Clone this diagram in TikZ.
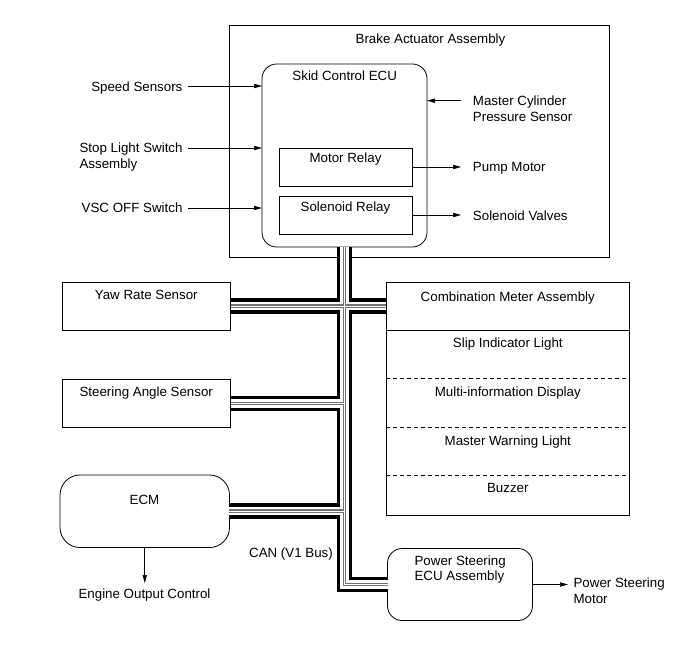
\documentclass[tikz,border=0pt]{standalone}
\usepackage{fontspec}
\setmainfont{Liberation Sans}
\usetikzlibrary{arrows.meta}
\begin{document}
\begin{tikzpicture}[x=0.75pt,y=-0.75pt,
  box/.style={draw, line width=0.6pt, inner sep=0pt, outer sep=0pt},
  rbox/.style={box, rounded corners=11pt},
  txt/.style={inner sep=0pt, font=\fontsize{10}{11.5}\selectfont},
  arr/.style={line width=0.5pt, -{Triangle[length=6pt,width=3.2pt]}},
  sep/.style={line width=0.6pt},
  dsep/.style={line width=0.6pt, dash pattern=on 3pt off 2.2pt},
  bus/.style={line width=11.8pt,
    postaction={draw=white, line width=6.2pt},
    postaction={draw=black!55, line width=2.7pt},
    postaction={draw=white, line width=1.1pt}}]
\useasboundingbox (0,0) rectangle (691,660);

% boxes
\node[box, minimum width=285pt, minimum height=174pt] (act) at (419,141) {};
\node[rbox, minimum width=123.75pt, minimum height=137.25pt] (ecu) at (344.5,155.5) {};
\node[box, minimum width=99.75pt, minimum height=28.5pt] (mr) at (345.5,167) {};
\node[box, minimum width=99.75pt, minimum height=28.5pt] (sr) at (345.5,215) {};
\node[box, minimum width=126.4pt, minimum height=35.6pt] (yaw) at (146.25,306.25) {};
\node[box, minimum width=126.4pt, minimum height=36pt] (sas) at (146.25,403.5) {};
\node[rbox, rounded corners=15pt, minimum width=127.1pt, minimum height=54.4pt] (ecm) at (144.75,511.25) {};
\node[box, minimum width=182.6pt, minimum height=174.75pt] (cm) at (507.75,399) {};
\node[rbox, minimum width=108.75pt, minimum height=54pt] (ps) at (460,584.5) {};

% combination meter dividers
\draw[sep] (cm.west |- 0,330) -- (cm.east |- 0,330);
\draw[dsep] (cm.west |- 0,378.5) -- (cm.east |- 0,378.5);
\draw[dsep] (cm.west |- 0,427) -- (cm.east |- 0,427);
\draw[dsep] (cm.west |- 0,475) -- (cm.east |- 0,475);

% CAN bus
\draw[bus] (ecu.south) -- (ecu.south |- ps.west) -- (ps.west)
  (yaw.east) -- (yaw.east -| cm.west)
  (sas.east) -- (sas.east -| ecu.south)
  (ecm.east) -- (ecm.east -| ecu.south);

% texts
\node[txt, anchor=north] (tact) at (430.5,33.5) {Brake Actuator Assembly};
\node[txt, anchor=north] (tecu) at (344.7,70.2) {Skid Control ECU};
\node[txt, anchor=north] (tmr) at (345.5,152.2) {Motor Relay};
\node[txt, anchor=north] (tsr) at (345.5,201.2) {Solenoid Relay};
\node[txt, anchor=north east] (tss) at (182.7,81.2) {Speed Sensors};
\node[txt, anchor=north west, align=left] (tsl) at (79.3,142.9) {Stop Light Switch\\Assembly};
\node[txt, anchor=north east] (tvsc) at (182.7,202.9) {VSC OFF Switch};
\node[txt, anchor=north west, align=left] (tmc) at (472.7,95.9) {Master Cylinder\\Pressure Sensor};
\node[txt, anchor=north west] (tpm) at (472.7,162.2) {Pump Motor};
\node[txt, anchor=north west] (tsv) at (472.7,210.2) {Solenoid Valves};
\node[txt, anchor=north] (tyaw) at (146.25,290.2) {Yaw Rate Sensor};
\node[txt, anchor=north] (tsas) at (146.25,386.2) {Steering Angle Sensor};
\node[txt, anchor=north] (tecm) at (144.5,495.2) {ECM};
\node[txt, anchor=north] (teoc) at (144.5,588.5) {Engine Output Control};
\node[txt, anchor=north] (tcm) at (507.8,291.9) {Combination Meter Assembly};
\node[txt, anchor=north] (tsil) at (507.8,337.9) {Slip Indicator Light};
\node[txt, anchor=north] (tmid) at (507.8,386.2) {Multi-information Display};
\node[txt, anchor=north] (tmwl) at (507.8,435.2) {Master Warning Light};
\node[txt, anchor=north] (tbz) at (507.8,483.5) {Buzzer};
\node[txt, anchor=north west, align=left] (tps) at (414.3,555.2) {Power Steering\\ECU Assembly};
\node[txt, anchor=north west, align=left] (tpsm) at (573.3,577.9) {Power Steering\\Motor};
\node[txt, anchor=north] (tcan) at (291,547.9) {CAN (V1 Bus)};

% arrows
\coordinate (pss) at (188,86);
\coordinate (psl) at (188,148);
\coordinate (pvsc) at (188,208);
\coordinate (pmc) at (461,100.7);
\coordinate (pout) at (461,0);
\coordinate (peoc) at (144.75,583);
\coordinate (ppsm) at (568,584.5);
\draw[arr] (pss) -- (pss -| ecu.west);
\draw[arr] (psl) -- (psl -| ecu.west);
\draw[arr] (pvsc) -- (pvsc -| ecu.west);
\draw[arr] (pmc) -- (pmc -| ecu.east);
\draw[arr] (mr.east) -- (mr.east -| pout);
\draw[arr] (sr.east) -- (sr.east -| pout);
\draw[arr] (ecm.south) -- (peoc);
\draw[arr] (ps.east) -- (ppsm);
\end{tikzpicture}
\end{document}
